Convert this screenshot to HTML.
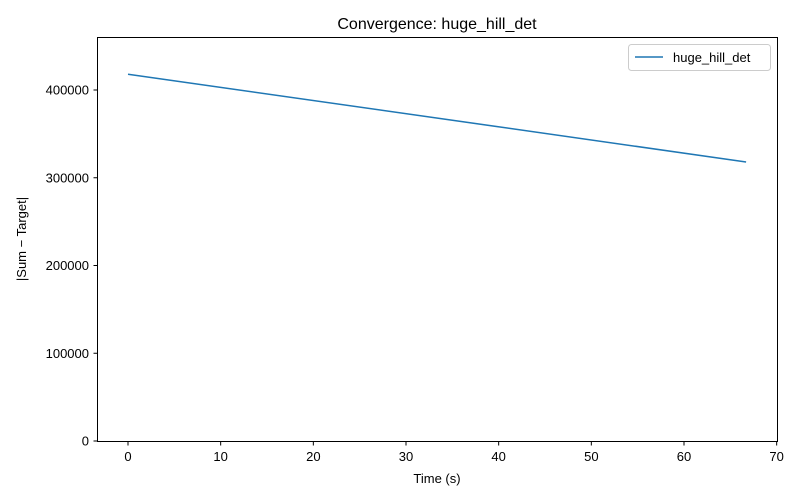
<!DOCTYPE html>
<html><head><meta charset="utf-8">
<style>
html,body{margin:0;padding:0;background:#fff;}
svg{display:block;font-family:"Liberation Sans","DejaVu Sans",sans-serif;}
</style></head>
<body>
<svg id="chart" width="800" height="500">
<rect width="800" height="500" fill="#fff"/>
<text x="437" y="29" font-size="16" text-anchor="middle">Convergence: huge_hill_det</text>
<g id="axes"></g>
<g id="plot"></g>
<rect x="97.5" y="37.5" width="680" height="404" fill="none" stroke="#000" stroke-width="1"/>
<text x="437" y="483" font-size="13" text-anchor="middle">Time (s)</text>
<text transform="translate(26,239) rotate(-90)" font-size="13" text-anchor="middle">|Sum − Target|</text>
<g>
<rect x="628.5" y="44.5" width="142" height="26" rx="3" fill="#fff" stroke="#ccc"/>
<line x1="635" y1="57" x2="663" y2="57" stroke="#1f77b4" stroke-width="1.5"/>
<text x="673" y="62" font-size="13">huge_hill_det</text>
</g>
</svg>
<script>
const xTicks = [0,10,20,30,40,50,60,70];
const yTicks = [0,100000,200000,300000,400000];
const times = [0, 66.7];
const errors = [418000, 318000];

const X0=128, XPX=(684-128)/60;
const Y0=441, YPX=(441-90)/400000;
function sx(v){return X0+v*XPX;}
function sy(v){return Y0-v*YPX;}
const NS="http://www.w3.org/2000/svg";
const axes=document.getElementById('axes');
const plot=document.getElementById('plot');

xTicks.forEach(t=>{
  const x=sx(t);
  const l=document.createElementNS(NS,'line');
  l.setAttribute('x1',x);l.setAttribute('x2',x);l.setAttribute('y1',441.5);l.setAttribute('y2',445.5);l.setAttribute('stroke','#000');
  
  
  axes.appendChild(l);
  const tx=document.createElementNS(NS,'text');
  tx.setAttribute('x',x);tx.setAttribute('y',461);tx.setAttribute('font-size','13');tx.setAttribute('text-anchor','middle');
  tx.textContent=t;
  
  
  axes.appendChild(tx);
});
yTicks.forEach(t=>{
  const y=sy(t);
  const l=document.createElementNS(NS,'line');
  l.setAttribute('x1',93.5);l.setAttribute('x2',97.5);l.setAttribute('y1',y);l.setAttribute('y2',y);l.setAttribute('stroke','#000');
  
  
  axes.appendChild(l);
  const tx=document.createElementNS(NS,'text');
  tx.setAttribute('x',89);tx.setAttribute('y',y+4.5);tx.setAttribute('font-size','13');tx.setAttribute('text-anchor','end');
  tx.textContent=t;
  
  
  axes.appendChild(tx);
});
const pts=times.map((t,i)=>sx(t)+','+sy(errors[i])).join(' ');
const pl=document.createElementNS(NS,'polyline');
pl.setAttribute('points',pts);pl.setAttribute('fill','none');pl.setAttribute('stroke','#1f77b4');pl.setAttribute('stroke-width','1.5');


plot.appendChild(pl);
</script>
</body></html>
